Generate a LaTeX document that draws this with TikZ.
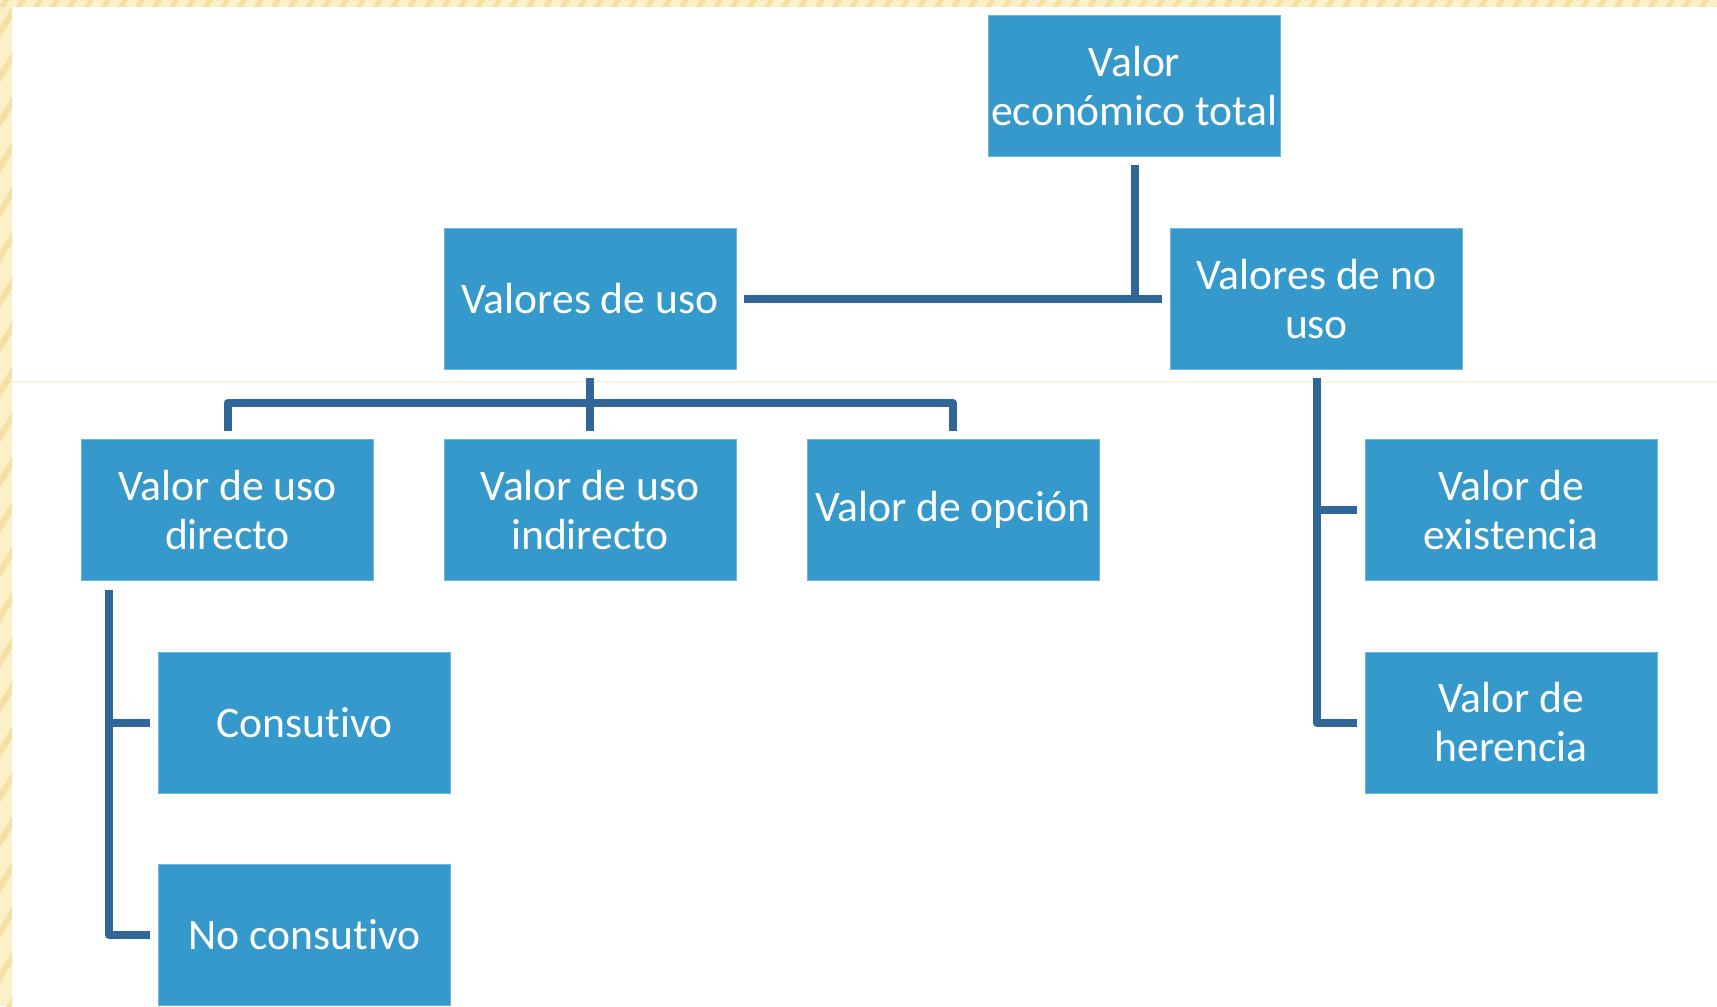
\documentclass[tikz,border=0pt]{standalone}
\usepackage{fontspec}
\setmainfont[RawFeature={-liga}]{Carlito}
\definecolor{boxblue}{RGB}{53,153,204}
\definecolor{boxedge}{RGB}{110,182,222}
\definecolor{linkblue}{RGB}{49,102,153}
\definecolor{cream}{RGB}{252,240,200}
\definecolor{creamdark}{RGB}{244,224,164}
\definecolor{faint}{RGB}{250,243,222}
\begin{document}
\begin{tikzpicture}[x=0.5pt,y=-0.5pt,
  vbox/.style={rectangle, fill=boxblue, draw=boxedge, line width=0.4pt,
    minimum width=146pt, minimum height=70.5pt, inner sep=0pt,
    text=white, align=center, font=\fontsize{21.8}{24.5}\selectfont},
  link/.style={draw=linkblue, line width=4pt, line join=round}]
\useasboundingbox (0,0) rectangle (1717,1006);
\fill[white] (0,0) rectangle (1717,1006);
% cream frame strips
\fill[cream] (0,0) rectangle (12,1006);
\fill[cream] (0,0) rectangle (1717,7);
\begin{scope}
  \clip (0,0) rectangle (12,1006);
  \foreach \k in {0,45,...,1060} {
    \draw[creamdark, line width=3pt] (-5,\k+40) -- (20,\k);
  }
\end{scope}
\begin{scope}
  \clip (0,0) rectangle (1717,7);
  \foreach \k in {0,17,...,1730} {
    \draw[creamdark, line width=2.5pt] (\k,10) -- (\k+8,-3);
  }
\end{scope}
\draw[faint, line width=0.8pt] (12,382) -- (1717,382);

% boxes
\node[vbox] (vet) at (1134.5,86) {Valor\\económico total};
\node[vbox] (uso) at (590,299) {Valores de uso};
\node[vbox] (nouso) at (1316.5,299) {Valores de no\\uso};
\node[vbox] (directo) at (227.5,510) {Valor de uso\\directo};
\node[vbox] (indirecto) at (590,510) {Valor de uso\\indirecto};
\node[vbox] (opcion) at (953,510) {Valor de opción};
\node[vbox] (existencia) at (1511,510) {Valor de\\existencia};
\node[vbox] (consutivo) at (304.5,722.5) {Consutivo};
\node[vbox] (noconsutivo) at (304.5,935) {No consutivo};
\node[vbox] (herencia) at (1511,722.5) {Valor de\\herencia};

% bus coordinates
\coordinate (b1) at (590,403);
\coordinate (b2) at (109,590);

% connectors
\draw[link] ([yshift=-4pt]vet.south) -- (vet.south |- uso.east);
\draw[link] ([xshift=4pt]uso.east) -- ([xshift=-4pt]nouso.west);

\draw[link] ([yshift=-4pt]uso.south) -- (uso.south |- b1);
\draw[link] ([yshift=4pt]directo.north) -- (directo.north |- b1) -- (opcion.north |- b1) -- ([yshift=4pt]opcion.north);
\draw[link] ([yshift=4pt]indirecto.north) -- (indirecto.north |- b1);

\draw[link] ([yshift=-4pt]nouso.south) -- (nouso.south |- herencia.west) -- ([xshift=-4pt]herencia.west);
\draw[link] ([xshift=-4pt]existencia.west) -- (nouso.south |- existencia.west);

\draw[link] (b2) -- (b2 |- noconsutivo.west) -- ([xshift=-4pt]noconsutivo.west);
\draw[link] ([xshift=-4pt]consutivo.west) -- (b2 |- consutivo.west);
\end{tikzpicture}
\end{document}
